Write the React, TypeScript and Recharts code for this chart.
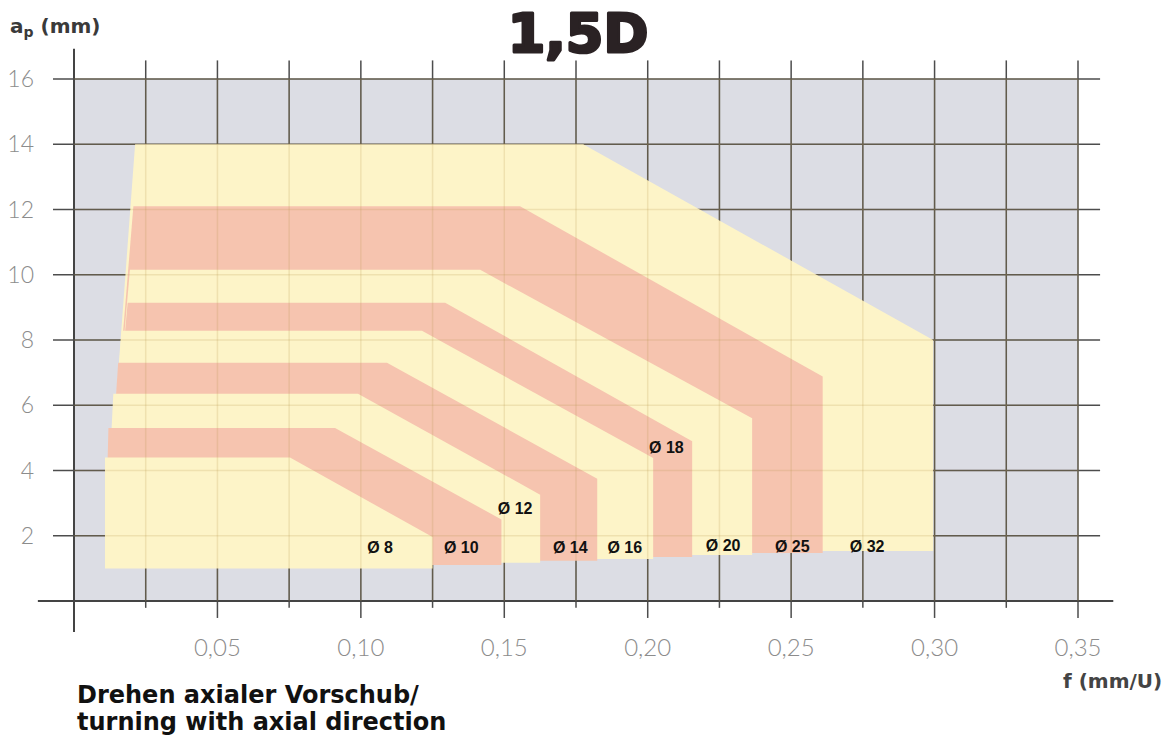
import React from "react";
import {
  ComposedChart,
  Area,
  Scatter,
  XAxis,
  YAxis,
  CartesianGrid,
  ReferenceLine,
} from "recharts";

// regions from the smallest tool diameter (inside) to the largest (outside)
const diameters = ["Ø 8", "Ø 10", "Ø 12", "Ø 14", "Ø 16", "Ø 18", "Ø 20", "Ø 25", "Ø 32"];
const topAp = [4.4, 5.3, 6.35, 7.3, 8.28, 9.14, 10.15, 12.1, 14.0];
const leftF = [0.0108, 0.012, 0.0137, 0.0154, 0.0166, 0.0187, 0.0195, 0.0207, 0.0213];
const kneeF = [0.0753, 0.091, 0.099, 0.1091, 0.1213, 0.1294, 0.1416, 0.1555, 0.1775];
const rightF = [0.125, 0.149, 0.1625, 0.1824, 0.2019, 0.2155, 0.2364, 0.261, 0.2995];
const cornerAp = [1.96, 2.5, 3.26, 3.75, 4.38, 4.9, 5.6, 6.88, 8.0];
const bottomAp = [1.0, 1.1, 1.17, 1.23, 1.29, 1.35, 1.41, 1.47, 1.53];

const labelF = [0.1067, 0.135, 0.1538, 0.173, 0.192, 0.2065, 0.2263, 0.2504, 0.2765];
const labelAp = [1.63, 1.63, 2.85, 1.63, 1.63, 4.72, 1.69, 1.66, 1.66];

const xTicks = [0.025, 0.05, 0.075, 0.1, 0.125, 0.15, 0.175, 0.2, 0.225, 0.25, 0.275, 0.3, 0.325, 0.35];
const yTicks = [2, 4, 6, 8, 10, 12, 14, 16];

const YELLOW = "#fdf4c8";
const SALMON = "#f6c4af";
const GRID = "#4d4d4d";

const isMajor = (v: number) => Math.round(v * 1000) % 50 === 0;

const regionData = (i: number) => {
  const pts: Array<{ f: number; range: [number, number] }> = [];
  if (i > 0) pts.push({ f: leftF[0], range: [bottomAp[i], bottomAp[i]] });
  pts.push({ f: leftF[i], range: [bottomAp[i], topAp[i]] });
  pts.push({ f: kneeF[i], range: [bottomAp[i], topAp[i]] });
  pts.push({ f: rightF[i], range: [bottomAp[i], cornerAp[i]] });
  return pts;
};

const labelData = diameters.map((name, i) => ({ f: labelF[i], ap: labelAp[i], name }));

const DiameterLabel = (props: any) => {
  const name = props.payload?.name ?? props.name;
  return (
    <text
      x={props.cx}
      y={props.cy}
      textAnchor="middle"
      dominantBaseline="central"
      fontFamily="Liberation Sans"
      fontWeight="bold"
      fontSize={16}
      fill="#111"
    >
      {name}
    </text>
  );
};

export default function App() {
  const order = diameters.map((_, i) => diameters.length - 1 - i);
  const tickFont = { fill: "#8c8c8c", fontFamily: "Lato", fontWeight: 300 };

  return (
    <div style={{ position: "absolute", left: 0, top: 0, width: 1171, height: 741, background: "#fff" }}>
      <ComposedChart
        width={1171}
        height={741}
        margin={{ top: 79, right: 93, bottom: 80, left: 0 }}
      >
        <CartesianGrid stroke={GRID} strokeWidth={1.5} fill="#dcdde4" fillOpacity={1} />
        <XAxis
          type="number"
          dataKey="f"
          domain={[0, 0.35]}
          allowDataOverflow
          ticks={xTicks}
          interval={0}
          tickFormatter={(v: number) => (isMajor(v) ? v.toFixed(2).replace(".", ",") : "")}
          axisLine={false}
          tickLine={false}
          tickSize={0}
          tickMargin={38}
          height={60}
          tick={{ ...tickFont, fontSize: 24 }}
        />
        <YAxis
          type="number"
          domain={[0, 16]}
          allowDataOverflow
          ticks={yTicks}
          interval={0}
          width={74}
          axisLine={false}
          tickLine={{ stroke: GRID, strokeWidth: 1.5 }}
          tickSize={21}
          tickMargin={19}
          tick={{ ...tickFont, fontSize: 23 }}
        />

        {order.map((i) => (
          <Area
            key={diameters[i]}
            data={regionData(i)}
            dataKey="range"
            type="linear"
            stroke="none"
            fill={i % 2 === 0 ? YELLOW : SALMON}
            fillOpacity={1}
            isAnimationActive={false}
          />
        ))}

        {/* faint grid visible through the coloured fields */}
        {xTicks.map((v) => (
          <ReferenceLine key={`fx${v}`} x={v} stroke="#b8964a" strokeOpacity={0.2} strokeWidth={1.5} zIndex={450} />
        ))}
        {yTicks.map((v) => (
          <ReferenceLine key={`fy${v}`} y={v} stroke="#b8964a" strokeOpacity={0.2} strokeWidth={1.5} zIndex={450} />
        ))}

        {/* grid lines running past the plot frame */}
        {xTicks.map((v) => (
          <ReferenceLine
            key={`tx${v}`}
            segment={[{ x: v, y: 16 }, { x: v, y: 16.57 }]}
            stroke={GRID}
            strokeWidth={1.5}
            ifOverflow="visible"
          />
        ))}
        {xTicks.map((v) => (
          <ReferenceLine
            key={`bx${v}`}
            segment={[{ x: v, y: 0 }, { x: v, y: isMajor(v) ? -0.52 : -0.21 }]}
            stroke={GRID}
            strokeWidth={1.5}
            ifOverflow="visible"
          />
        ))}
        {yTicks.map((v) => (
          <ReferenceLine
            key={`ry${v}`}
            segment={[{ x: 0.35, y: v }, { x: 0.3577, y: v }]}
            stroke={GRID}
            strokeWidth={1.5}
            ifOverflow="visible"
          />
        ))}
        <ReferenceLine
          segment={[{ x: -0.0126, y: 0 }, { x: 0.3623, y: 0 }]}
          stroke="#444"
          strokeWidth={2}
          ifOverflow="visible"
        />
        <ReferenceLine
          segment={[{ x: 0, y: -0.95 }, { x: 0, y: 16.93 }]}
          stroke="#444"
          strokeWidth={2}
          ifOverflow="visible"
        />

        <Scatter data={labelData} dataKey="ap" shape={DiameterLabel} isAnimationActive={false} />
      </ComposedChart>

      <svg
        width={1171}
        height={741}
        style={{ position: "absolute", left: 0, top: 0, pointerEvents: "none" }}
      >
        <text
          x={578}
          y={52}
          textAnchor="middle"
          fontFamily="DejaVu Sans"
          fontWeight="bold"
          fontSize={54}
          fill="#2a2224"
          stroke="#2a2224"
          strokeWidth={3}
          strokeLinejoin="round"
        >
          1,5D
        </text>
        <text x={10} y={33} fontFamily="DejaVu Sans" fontWeight="bold" fontSize={20} fill="#3a3a3a">
          <tspan>a</tspan>
          <tspan fontSize={14} dy={4}>p</tspan>
          <tspan dy={-4}> (mm)</tspan>
        </text>
        <text x={1063} y={688} fontFamily="DejaVu Sans" fontWeight="bold" fontSize={20} fill="#444">
          f (mm/U)
        </text>
        <text x={77} y={703} fontFamily="DejaVu Sans" fontWeight="bold" fontSize={24} fill="#111">
          Drehen axialer Vorschub/
        </text>
        <text x={77} y={730} fontFamily="DejaVu Sans" fontWeight="bold" fontSize={24} fill="#111">
          turning with axial direction
        </text>
      </svg>
    </div>
  );
}
